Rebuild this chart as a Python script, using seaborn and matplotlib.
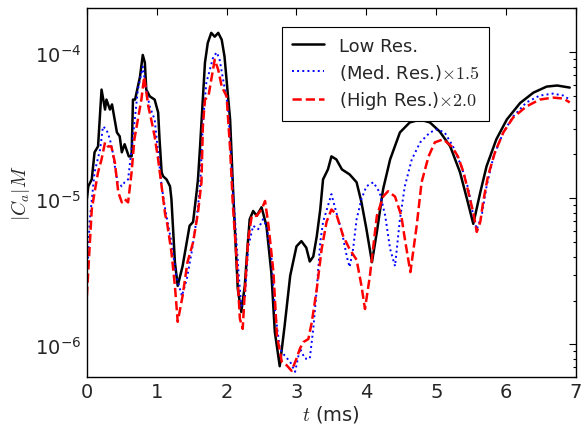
import numpy as np
import pandas as pd
import seaborn as sns
import matplotlib
matplotlib.use("Agg")
import matplotlib.pyplot as plt

# time (ms) and |C_a|M, one pair of arrays per resolution
LOW_T = [0.00, 0.02, 0.07, 0.11, 0.16, 0.21, 0.26, 0.28, 0.33, 0.36, 0.43, 0.47, 0.50, 0.54, 0.60,
         0.64, 0.66, 0.69, 0.73, 0.76, 0.80, 0.83, 0.85, 0.90, 0.97, 1.02, 1.04, 1.07, 1.09, 1.14,
         1.19, 1.21, 1.26, 1.30, 1.37, 1.47, 1.52, 1.57, 1.59, 1.62, 1.69, 1.73, 1.78, 1.83, 1.88,
         1.93, 1.97, 2.02, 2.05, 2.09, 2.13, 2.16, 2.21, 2.26, 2.30, 2.33, 2.38, 2.43, 2.50, 2.57,
         2.64, 2.69, 2.76, 2.83, 2.91, 3.00, 3.07, 3.14, 3.19, 3.24, 3.29, 3.34, 3.38, 3.45, 3.50,
         3.57, 3.65, 3.76, 3.86, 3.93, 4.00, 4.08, 4.15, 4.24, 4.34, 4.48, 4.62, 4.77, 4.91, 5.05,
         5.20, 5.34, 5.44, 5.53, 5.63, 5.72, 5.86, 6.01, 6.20, 6.39, 6.58, 6.73, 6.91]
LOW_C = [9.9e-6, 1.21e-5, 1.35e-5, 2.07e-5, 2.27e-5, 5.56e-5, 4.06e-5, 4.75e-5, 4.06e-5, 4.4e-5,
         2.83e-5, 2.66e-5, 2.07e-5, 2.35e-5, 1.94e-5, 1.94e-5, 4.75e-5, 4.75e-5, 5.83e-5, 6.8e-5,
         9.6e-5, 8.5e-5, 5.56e-5, 5.0e-5, 4.75e-5, 3.88e-5, 2.54e-5, 1.51e-5, 1.42e-5, 1.35e-5,
         1.21e-5, 9.9e-6, 3.66e-6, 2.52e-6, 3.44e-6, 6.5e-6, 6.9e-6, 1.10e-5, 1.35e-5, 2.27e-5,
         8.5e-5, 1.16e-4, 1.36e-4, 1.28e-4, 1.36e-4, 1.22e-4, 9.35e-5, 5.0e-5, 3.47e-5, 1.21e-5,
         4.7e-6, 2.4e-6, 1.67e-6, 2.52e-6, 4.7e-6, 7.2e-6, 8.2e-6, 7.6e-6, 8.7e-6, 6.5e-6,
         3.1e-6, 1.22e-6, 7.1e-7, 1.34e-6, 2.96e-6, 4.7e-6, 5.1e-6, 4.6e-6, 3.7e-6, 4.0e-6,
         5.5e-6, 8.4e-6, 1.35e-5, 1.58e-5, 1.94e-5, 1.85e-5, 1.58e-5, 1.46e-5, 1.29e-5, 9.4e-6,
         6.2e-6, 3.66e-6, 5.9e-6, 1.16e-5, 1.85e-5, 2.83e-5, 3.31e-5, 3.47e-5, 3.31e-5, 2.87e-5,
         2.27e-5, 1.51e-5, 9.9e-6, 6.7e-6, 1.10e-5, 1.66e-5, 2.54e-5, 3.47e-5, 4.5e-5, 5.3e-5,
         5.83e-5, 5.93e-5, 5.74e-5]

MED_T = [0.01, 0.04, 0.11, 0.19, 0.23, 0.28, 0.33, 0.37, 0.40, 0.44, 0.50, 0.54, 0.59, 0.64, 0.69,
         0.73, 0.80, 0.85, 0.90, 0.97, 1.02, 1.07, 1.12, 1.21, 1.28, 1.36, 1.43, 1.50, 1.57, 1.62,
         1.66, 1.71, 1.76, 1.81, 1.86, 1.90, 1.95, 2.02, 2.09, 2.17, 2.21, 2.26, 2.31, 2.38, 2.45,
         2.52, 2.57, 2.64, 2.69, 2.76, 2.83, 2.91, 2.98, 3.05, 3.12, 3.19, 3.24, 3.29, 3.34, 3.38,
         3.45, 3.50, 3.57, 3.65, 3.72, 3.76, 3.81, 3.86, 3.93, 4.00, 4.10, 4.19, 4.27, 4.34, 4.41,
         4.48, 4.55, 4.65, 4.77, 4.91, 5.01, 5.12, 5.24, 5.36, 5.46, 5.53, 5.58, 5.65, 5.72, 5.82,
         5.96, 6.10, 6.29, 6.48, 6.67, 6.82, 6.91]
MED_C = [3.3e-6, 7.0e-6, 1.51e-5, 2.17e-5, 3.11e-5, 2.97e-5, 2.54e-5, 2.07e-5, 1.66e-5, 1.29e-5,
         1.21e-5, 1.29e-5, 1.35e-5, 2.17e-5, 3.64e-5, 5.56e-5, 7.98e-5, 5.56e-5, 4.26e-5, 3.47e-5,
         2.07e-5, 1.21e-5, 8.5e-6, 5.0e-6, 2.94e-6, 2.15e-6, 2.8e-6, 4.3e-6, 7.2e-6, 1.2e-5,
         3.3e-5, 6.2e-5, 7.6e-5, 9.35e-5, 1.0e-4, 8.9e-5, 6.5e-5, 4.26e-5, 1.16e-5, 3.13e-6,
         1.84e-6, 2.05e-6, 4.7e-6, 6.5e-6, 6.15e-6, 7.2e-6, 6.5e-6, 4.0e-6, 1.75e-6, 9.4e-7,
         8.4e-7, 7.6e-7, 6.5e-7, 9.4e-7, 8.0e-7, 8.0e-7, 1.28e-6, 2.4e-6, 5.0e-6, 6.9e-6,
         8.9e-6, 1.07e-5, 8.0e-6, 5.9e-6, 4.0e-6, 3.39e-6, 4.5e-6, 7.2e-6, 9.9e-6, 1.21e-5,
         1.29e-5, 1.10e-5, 7.6e-6, 4.5e-6, 3.44e-6, 7.2e-6, 1.21e-5, 1.85e-5, 2.42e-5, 2.83e-5,
         2.97e-5, 2.83e-5, 2.27e-5, 1.66e-5, 1.16e-5, 7.6e-6, 6.15e-6, 7.6e-6, 1.21e-5, 1.94e-5,
         2.83e-5, 3.64e-5, 4.54e-5, 5.06e-5, 5.22e-5, 5.06e-5, 4.75e-5]

HIGH_T = [0.00, 0.04, 0.07, 0.11, 0.16, 0.21, 0.26, 0.30, 0.35, 0.40, 0.45, 0.50, 0.54, 0.59, 0.64,
          0.68, 0.73, 0.78, 0.82, 0.88, 0.93, 0.97, 1.02, 1.07, 1.12, 1.15, 1.21, 1.26, 1.30, 1.37,
          1.44, 1.52, 1.59, 1.64, 1.66, 1.69, 1.74, 1.78, 1.83, 1.88, 1.93, 2.00, 2.05, 2.09, 2.14,
          2.19, 2.23, 2.26, 2.31, 2.36, 2.43, 2.50, 2.55, 2.60, 2.67, 2.72, 2.79, 2.86, 2.93, 3.00,
          3.05, 3.10, 3.17, 3.22, 3.29, 3.36, 3.43, 3.50, 3.57, 3.67, 3.76, 3.86, 3.93, 3.98, 4.05,
          4.15, 4.24, 4.31, 4.41, 4.50, 4.55, 4.60, 4.63, 4.72, 4.79, 4.89, 4.98, 5.10, 5.22, 5.31,
          5.39, 5.46, 5.53, 5.58, 5.63, 5.67, 5.74, 5.84, 5.96, 6.10, 6.29, 6.48, 6.67, 6.82, 6.91]
HIGH_C = [2.15e-6, 4.7e-6, 8.4e-6, 1.10e-5, 1.51e-5, 1.85e-5, 2.42e-5, 2.27e-5, 2.27e-5, 1.77e-5,
          1.10e-5, 9.4e-6, 9.9e-6, 9.4e-6, 1.51e-5, 2.54e-5, 3.47e-5, 4.75e-5, 6.8e-5, 4.26e-5,
          3.31e-5, 2.66e-5, 1.85e-5, 1.21e-5, 7.8e-6, 6.7e-6, 4.3e-6, 2.52e-6, 1.43e-6, 2.15e-6,
          3.66e-6, 5.0e-6, 8.0e-6, 1.29e-5, 3.11e-5, 4.75e-5, 5.0e-5, 6.5e-5, 8.9e-5, 7.6e-5,
          5.83e-5, 5.0e-5, 2.17e-5, 8.9e-6, 4.0e-6, 1.5e-6, 1.28e-6, 2.28e-6, 5.3e-6, 7.6e-6,
          7.6e-6, 8.4e-6, 9.6e-6, 6.5e-6, 3.13e-6, 1.15e-6, 7.6e-7, 7.2e-7, 6.6e-7, 8.0e-7,
          9.4e-7, 1.04e-6, 1.09e-6, 1.43e-6, 2.4e-6, 4.5e-6, 6.9e-6, 8.4e-6, 7.8e-6, 5.5e-6,
          4.5e-6, 3.8e-6, 2.52e-6, 1.75e-6, 2.94e-6, 7.6e-6, 1.03e-5, 1.12e-5, 1.03e-5, 7.6e-6,
          5.3e-6, 3.8e-6, 3.13e-6, 6.5e-6, 1.29e-5, 1.94e-5, 2.42e-5, 2.54e-5, 2.27e-5, 1.94e-5,
          1.51e-5, 1.10e-5, 8.0e-6, 5.9e-6, 6.9e-6, 9.4e-6, 1.42e-5, 2.07e-5, 2.83e-5, 3.58e-5,
          4.26e-5, 4.75e-5, 4.9e-5, 4.83e-5, 4.54e-5]

LABELS = ["Low Res.", r"(Med. Res.)$\times 1.5$", r"(High Res.)$\times 2.0$"]

sns.set_style("white")
plt.rcParams["font.family"] = ["DejaVu Sans"]
plt.rcParams["mathtext.fontset"] = "cm"

fig, ax = plt.subplots(figsize=(5.83, 4.27), dpi=100)
fig.subplots_adjust(left=0.149, right=0.988, bottom=0.115, top=0.978)

series = [
    (LOW_T, LOW_C, LABELS[0], "black", "-", 1.8),
    (MED_T, MED_C, LABELS[1], "blue", ":", 1.4),
    (HIGH_T, HIGH_C, LABELS[2], "red", "--", 1.8),
]
for t, c, name, col, ls, lw in series:
    df = pd.DataFrame({"t": t, "c": c})
    sns.lineplot(data=df, x="t", y="c", ax=ax, label=name, color=col,
                 linestyle=ls, linewidth=lw, estimator=None, sort=False)

ax.set_yscale("log")
ax.set_xlim(0, 7)
ax.set_ylim(6e-7, 2e-4)
ax.set_xticks(range(0, 8))

ax.set_xlabel(r"$t$ (ms)", fontsize=14, labelpad=1)
ax.set_ylabel(r"$|C_a|M$", fontsize=14, labelpad=2)
ax.tick_params(which="both", direction="in", top=True, right=True, labelsize=14)
ax.tick_params(which="major", length=5, width=0.8, color="black", pad=4)
ax.tick_params(which="minor", length=2.5, width=0.8, color="black")
for s in ax.spines.values():
    s.set_color("black")
    s.set_linewidth(1.0)

leg = ax.legend(loc="upper left", bbox_to_anchor=(0.38, 0.975), fontsize=13,
                frameon=True, fancybox=False, handlelength=1.8, borderpad=0.55,
                labelspacing=0.4, framealpha=1, edgecolor="black")
leg.get_frame().set_linewidth(0.8)

fig.savefig("out.png", dpi=100)
